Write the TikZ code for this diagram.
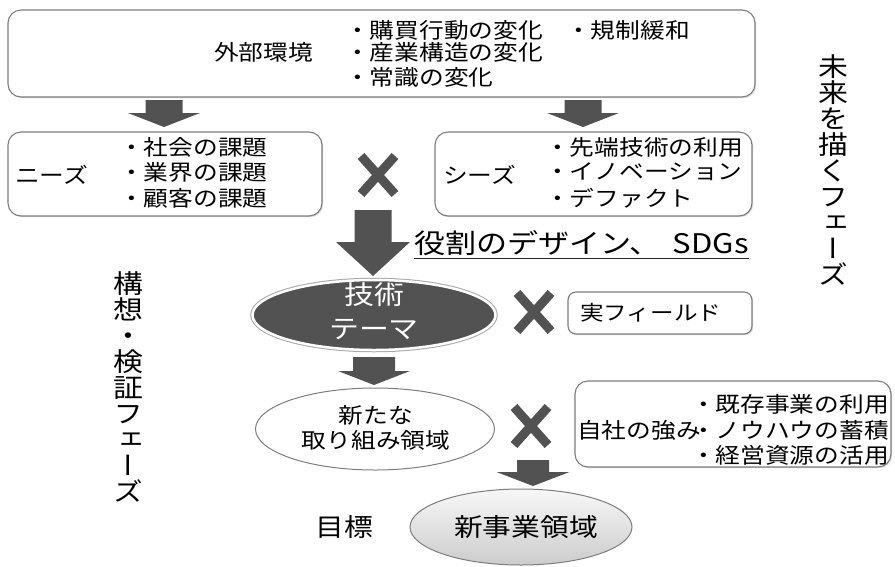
\documentclass[tikz,border=0pt]{standalone}
\usepackage{fontspec}
\setmainfont{Noto Sans CJK JP}[FakeStretch=1.15]
\newfontfamily\vfont{Noto Sans CJK JP}[FakeStretch=1.15,RawFeature=+vert]
\usetikzlibrary{shapes.geometric,shadows}
\definecolor{dk}{RGB}{82,82,82}
\definecolor{bd}{RGB}{125,125,125}
\tikzset{
  rbox/.style={draw=bd, line width=1.1pt, rounded corners=13pt, fill=white,
    drop shadow={shadow xshift=1.2pt, shadow yshift=-1.2pt, opacity=0.3}},
  txt/.style={inner sep=0pt, anchor=west, font=\fontsize{21.5}{24}\selectfont},
  ctxt/.style={inner sep=0pt, font=\fontsize{21.5}{24}\selectfont},
  big/.style={inner sep=0pt, font=\fontsize{25}{28}\selectfont},
  vtxt/.style={inner sep=0pt, align=center, font={\vfont\fontsize{26}{26}\selectfont}},
  pics/barrow/.style args={#1/#2/#3/#4}{code={
    \fill[dk] (-#3/2,0) -- (#3/2,0) -- (#3/2,#1) -- (#4/2,#1) -- (0,#2)
      -- (-#4/2,#1) -- (-#3/2,#1) -- cycle;}},
  pics/xmark/.style={code={
    \draw[dk, line width=9pt] (-17,-19) -- (17,19) (-17,19) -- (17,-19);}},
}
\begin{document}
\begin{tikzpicture}[x=1pt,y=-1pt]
\useasboundingbox (0,0) rectangle (895,566);
% top box
\node[rbox, minimum width=747pt, minimum height=87pt] (env) at (381.5,53.5) {};
\node[txt] (envt) at (214,52) {外部環境};
\node[txt] (e1) at (345,30) {・購買行動の変化};
\node[txt] (e2) at (345,52) {・産業構造の変化};
\node[txt] (e3) at (345,77) {・常識の変化};
\node[txt] (e4) at (566,30) {・規制緩和};
\pic at (164,100) {barrow=13/27/37/72};
\pic at (583,100) {barrow=13/27/37/72};
% needs
\node[rbox, minimum width=314pt, minimum height=84pt] (needs) at (165,174) {};
\node[txt] (nt) at (15,175) {ニーズ};
\node[txt] (n1) at (119,147) {・社会の課題};
\node[txt] (n2) at (119,172) {・業界の課題};
\node[txt] (n3) at (119,198) {・顧客の課題};
\pic at (378,175) {xmark};
% seeds
\node[rbox, minimum width=317pt, minimum height=84pt] (seeds) at (593.5,174) {};
\node[txt] (st) at (443,175) {シーズ};
\node[txt] (s1) at (545,147) {・先端技術の利用};
\node[txt] (s2) at (545,172) {・イノベーション};
\node[txt] (s3) at (545,198) {・デファクト};
% big arrow
\pic at (373,210) {barrow=32/66/37/74};
\node[txt, font=\fontsize{27}{30}\selectfont] (role) at (414,243) {役割のデザイン、\hspace{0.45em}SDGs};
\draw[line width=1.3pt, black!85] ([yshift=-3pt]role.south west) -- ([yshift=-3pt]role.south east);
% tech theme
\node[ellipse, fill=dk, draw=white, line width=2.5pt, preaction={draw=gray!70, line width=4.5pt},
  minimum width=243pt, minimum height=70pt] (tech) at (374,315) {};
\node[inner sep=0pt, text=white, font=\fontsize{26}{30}\selectfont] (tech1) at (374,295) {技術};
\node[inner sep=0pt, text=white, font=\fontsize{26}{30}\selectfont] (tech2) at (374,329) {テーマ};
\pic at (534,312) {xmark};
\node[rbox, rounded corners=8pt, minimum width=184pt, minimum height=42pt] (field) at (660,313) {};
\node[txt, font=\fontsize{20.5}{24}\selectfont] (fieldt) at (580,313) {実フィールド};
\pic at (374,357) {barrow=14/28/42/72};
% new area
\node[ellipse, draw=bd, line width=1pt, fill=white, minimum width=239pt, minimum height=82pt] (newarea) at (375,429) {};
\node[ctxt] (na1) at (376,415) {新たな};
\node[ctxt] (na2) at (376,440) {取り組み領域};
\pic at (531,426) {xmark};
% strengths
\node[rbox, minimum width=316pt, minimum height=86pt] (str) at (733,424) {};
\node[txt] (strt) at (577,430) {自社の強み};
\node[txt, anchor=east] (str1) at (889,404) {・既存事業の利用};
\node[txt, anchor=east] (str2) at (889,430) {・ノウハウの蓄積};
\node[txt, anchor=east] (str3) at (889,455) {・経営資源の活用};
\pic at (533,460) {barrow=12/26/32/73};
% goal
\node[ellipse, draw=bd, line width=1pt, top color=gray!6, bottom color=gray!40,
  minimum width=222pt, minimum height=76pt] (goal) at (521,527) {};
\node[big] (goalt) at (526,527) {新事業領域};
\node[big] (mokuhyo) at (344,527) {目標};
% vertical labels
\node[vtxt] (v1) at (833,170) {未\\来\\を\\描\\く\\フ\\ェ\\ー\\ズ};
\node[vtxt] (v2) at (128,387) {構\\想\\・\\検\\証\\フ\\ェ\\ー\\ズ};
\end{tikzpicture}
\end{document}
